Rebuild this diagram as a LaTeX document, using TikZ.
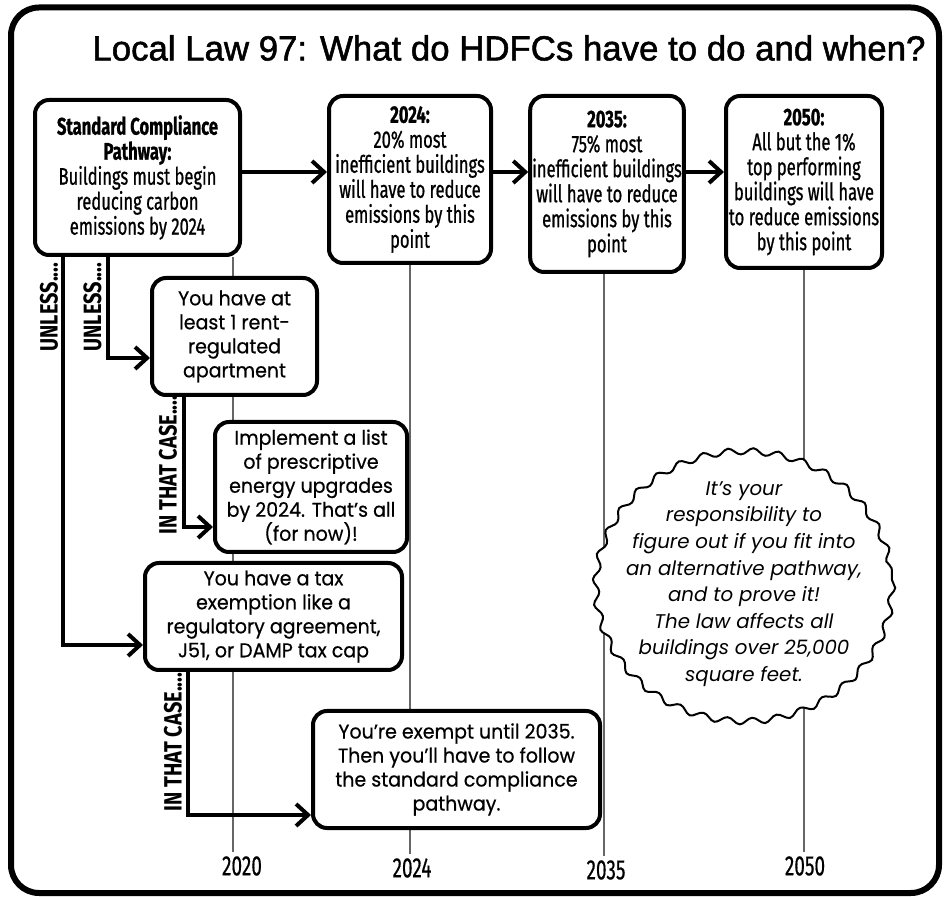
\documentclass[tikz,border=0pt]{standalone}
\usepackage{fontspec}
\setmainfont{Fira Sans}
\newfontfamily\titlefont{Liberation Sans}[FakeBold=1.5]
\newfontfamily\condfont{Fira Sans}[FakeStretch=0.69,FakeBold=0.8]
\newfontfamily\tagfont{Fira Sans}[FakeStretch=0.8]
\newfontfamily\yearfont{Fira Sans}[FakeStretch=0.68,FakeBold=0.5]
\newfontfamily\bodyfont{Poppins}[FakeStretch=0.95,FakeBold=0.5]
\newfontfamily\notefont{Poppins}
\usetikzlibrary{arrows.meta,backgrounds,decorations.pathmorphing}

\begin{document}
\begin{tikzpicture}[x=0.5pt,y=-0.5pt,
    box/.style={draw,line width=2pt,rounded corners=7pt,fill=white,align=center,inner sep=1pt},
    stage/.style={box,font=\condfont\fontsize{12}{12.5}\selectfont},
    case/.style={box,font=\bodyfont\fontsize{10}{12}\selectfont},
    flow/.style={line width=2pt,-{Straight Barb[length=6pt,width=11pt,line width=2pt]}},
    timeline/.style={black!60,line width=0.6pt},
    tag/.style={rotate=90,font=\tagfont\bfseries\fontsize{12.5}{12.5}\selectfont},
    year/.style={font=\yearfont\fontsize{14}{14}\selectfont,inner sep=2pt},
    wave/.style={draw,line width=1pt,fill=white,decorate,decoration={snake,segment length=12.5pt,amplitude=1.6pt}}]
    \useasboundingbox (0,0) rectangle (948,897);
    \draw[line width=3pt,rounded corners=14pt] (11,7.5) rectangle (939,893);
    \node[font=\titlefont\fontsize{17.4}{20}\selectfont] (title) at (509,48) {Local Law 97: What do HDFCs have to do and when?};

    \node[stage,minimum width=102.5pt,minimum height=77.5pt] (comply) at (137.5,177.5) {\textbf{Standard Compliance}\\\textbf{Pathway:}\\Buildings must begin\\reducing carbon\\emissions by 2024};
    \node[stage,minimum width=81pt,minimum height=83.5pt] (y24) at (410,179.5) {\textbf{2024:}\\20\% most\\inefficient buildings\\will have to reduce\\emissions by this\\point};
    \node[stage,minimum width=76pt,minimum height=88pt] (y35) at (607,184) {\textbf{2035:}\\75\% most\\inefficient buildings\\will have to reduce\\emissions by this\\point};
    \node[stage,minimum width=78pt,minimum height=86pt] (y50) at (804,182) {\textbf{2050:}\\All but the 1\%\\top performing\\buildings will have\\to reduce emissions\\by this point};

    \node[case,minimum width=82.5pt,minimum height=58.5pt] (rent) at (234.5,336.5) {You have at\\least 1 rent-\\regulated\\apartment};
    \node[case,minimum width=96pt,minimum height=65pt] (list) at (311,487) {Implement a list\\of prescriptive\\energy upgrades\\by 2024. That’s all\\(for now)!};
    \node[case,minimum width=128.5pt,minimum height=53.5pt] (tax) at (273.5,616.5) {You have a tax\\exemption like a\\regulatory agreement,\\J51, or DAMP tax cap};
    \node[case,minimum width=143.5pt,minimum height=58.5pt] (exempt) at (456.5,769.5) {You’re exempt until 2035.\\Then you’ll have to follow\\the standard compliance\\pathway.};

    \node[year] (t20) at (242,866) {2020};
    \node[year] (t24) at (412,868) {2024};
    \node[year] (t35) at (606,870) {2035};
    \node[year] (t50) at (805,866) {2050};

    \begin{scope}[on background layer]
        \draw[timeline] ([xshift=-4.5pt]t20.north) -- ([xshift=-4.5pt]t20.north |- comply.south);
        \draw[timeline] (y24.south) -- (y24.south |- t24.north);
        \draw[timeline] ([xshift=-1.5pt]y35.south) -- ([xshift=-1.5pt]y35.south |- t35.north);
        \draw[timeline] (y50.south) -- (y50.south |- t50.north);
    \end{scope}

    \draw[flow] ([yshift=2.75pt]comply.east) -- ([yshift=2.75pt]comply.east -| y24.west);
    \draw[flow] ([yshift=3.75pt]y24.east) -- ([yshift=3.75pt]y24.east -| y35.west);
    \draw[flow] ([yshift=6pt]y35.east) -- ([yshift=6pt]y35.east -| y50.west);

    \draw[flow] ([xshift=-37.25pt]comply.south) |- ([yshift=-14.25pt]tax.west);
    \draw[flow] ([xshift=-14.75pt]comply.south) |- ([yshift=-10.75pt]rent.west);
    \draw[flow] ([xshift=-25.25pt]rent.south) |- ([yshift=-20pt]list.west);
    \draw[flow] ([xshift=-42.75pt]tax.south) |- ([yshift=-22.75pt]exempt.west);

    \node[tag] (unless1) at (49,307) {UNLESS....};
    \node[tag] (unless2) at (92.5,307) {UNLESS....};
    \node[tag] (case1) at (168,465) {IN THAT CASE....};
    \node[tag] (case2) at (173,742) {IN THAT CASE....};

    \draw[wave] (744,580) ellipse (148 and 135);
    \node[font=\notefont\itshape\fontsize{9.9}{13.3}\selectfont,align=center] (note) at (744,584) {It’s your\\responsibility to\\figure out if you fit into\\an alternative pathway,\\and to prove it!\\The law affects all\\buildings over 25,000\\square feet.};
\end{tikzpicture}
\end{document}
